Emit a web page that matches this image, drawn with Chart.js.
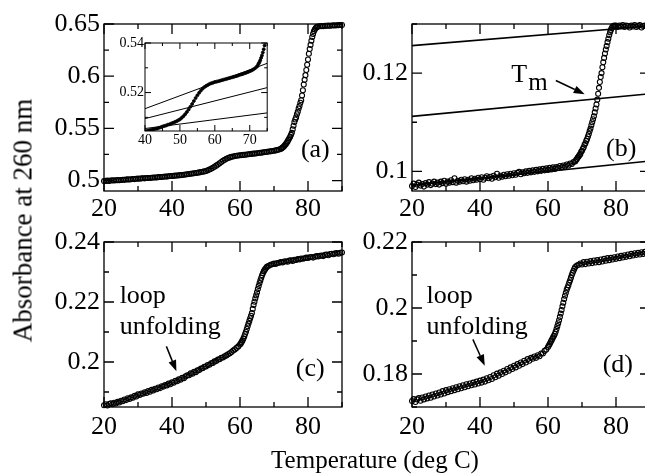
<!DOCTYPE html>
<html>
<head>
<meta charset="utf-8">
<script src="https://cdn.jsdelivr.net/npm/chart.js@4.4.1/dist/chart.umd.min.js"></script>
<style>
html, body { margin: 0; padding: 0; background: #fff; overflow: hidden; width: 645px; height: 474px; }
canvas { position: absolute; }
.title { position: absolute; font-family: 'Liberation Serif', 'Times New Roman', serif; color: #000; white-space: nowrap; text-align: center; }
</style>
</head>
<body>
<canvas id="pa" width="314" height="227" style="left:34px;top:4px"></canvas>
<canvas id="pb" width="314" height="227" style="left:342px;top:4px"></canvas>
<canvas id="pc" width="314" height="225" style="left:34px;top:222px"></canvas>
<canvas id="pd" width="314" height="225" style="left:342px;top:222px"></canvas>
<canvas id="inset" width="162" height="118" style="left:110px;top:33px"></canvas>
<div class="title" style="left:0;top:447px;width:750px;height:25px;font-size:25px;line-height:25px">Temperature (deg C)</div>
<div class="title" style="left:-127px;top:207px;width:300px;height:27px;font-size:27px;line-height:27px;transform:rotate(-90deg)">Absorbance at 260 nm</div>
<script>
const FONT = "'Liberation Serif', 'Times New Roman', serif";

// panel (a) and the inset
const aTemps = [
  20,20.5,21,21.5,22,22.5,23,23.5,24,24.5,
  25,25.5,26,26.5,27,27.5,28,28.5,29,29.5,
  30,30.5,31,31.5,32,32.5,33,33.5,34,34.5,
  35,35.5,36,36.5,37,37.5,38,38.5,39,39.5,
  40,40.5,41,41.5,42,42.5,43,43.5,44,44.5,
  45,45.5,46,46.5,47,47.5,48,48.5,49,49.5,
  50,50.5,51,51.5,52,52.5,53,53.5,54,54.5,
  55,55.5,56,56.5,57,57.5,58,58.5,59,59.5,
  60,60.5,61,61.5,62,62.5,63,63.5,64,64.5,
  65,65.5,66,66.5,67,67.5,68,68.5,69,69.5,
  70,70.5,71,71.5,72,
  72.25,72.5,72.75,73,73.25,73.5,73.75,74,
  74.25,74.5,74.75,75,75.25,75.5,75.75,76,
  76.25,76.5,76.75,77,77.25,77.5,77.75,78,
  78.25,78.5,78.75,79,79.25,79.5,79.75,80,
  80.25,80.5,80.75,81,81.25,81.5,81.75,82,
  82.25,82.5,82.75,83,
  83.5,84,84.5,85,85.5,86,86.5,87,87.5,88,88.5,89,89.5,90
];
const aAbs = [
  .4995,.4997,.4999,.4997,.5001,.5002,.5000,.5003,.5004,.5003,
  .5006,.5008,.5007,.5010,.5011,.5010,.5013,.5015,.5014,.5017,
  .5019,.5018,.5021,.5022,.5021,.5024,.5025,.5024,.5027,.5029,
  .5030,.5030,.5033,.5034,.5034,.5037,.5039,.5038,.5041,.5043,
  .5044,.5045,.5047,.5049,.5050,.5052,.5054,.5055,.5058,.5060,
  .5063,.5065,.5067,.5070,.5072,.5075,.5078,.5081,.5084,.5088,
  .5092,.5098,.5105,.5113,.5122,.5132,.5143,.5154,.5166,.5178,
  .5189,.5199,.5208,.5216,.5222,.5227,.5231,.5235,.5238,.5240,
  .5243,.5244,.5246,.5248,.5250,.5252,.5254,.5256,.5258,.5260,
  .5262,.5264,.5266,.5268,.5271,.5273,.5275,.5278,.5280,.5283,
  .5286,.5289,.5293,.5298,.5304,
  .5308,.5316,.5322,.5330,.5340,.5350,.5362,.5375,
  .5390,.5405,.5420,.5438,.5457,.5490,.5525,.5560,
  .5585,.5605,.5635,.5660,.5690,.5715,.5745,.5770,
  .5815,.5865,.5920,.5965,.6010,.6060,.6110,.6160,
  .6215,.6260,.6300,.6340,.6375,.6405,.6430,.6448,
  .6460,.6468,.6473,.6476,
  .6478,.6480,.6479,.6482,.6483,.6484,.6483,.6486,.6487,.6486,.6488,.6489,.6490,.6491
];
// baseline fits in the inset: [t0, a0, t1, a1]
const insetLines = [[40, .5135, 75, .5318], [40, .5095, 75, .5220], [40, .5055, 75, .5118]];

// panel (b)
const bTemps = [
  20,20.5,21,21.5,22,22.5,23,23.5,24,24.5,
  25,25.5,26,26.5,27,27.5,28,28.5,29,29.5,
  30,30.5,31,31.5,32,32.5,33,33.5,34,34.5,
  35,35.5,36,36.5,37,37.5,38,38.5,39,39.5,
  40,40.5,41,41.5,42,42.5,43,43.5,44,44.5,
  45,45.5,46,46.5,47,47.5,48,48.5,49,49.5,
  50,50.5,51,51.5,52,52.5,53,53.5,54,54.5,
  55,55.5,56,56.5,57,57.5,58,58.5,59,59.5,
  60,60.5,61,61.5,62,62.5,63,63.5,64,64.5,
  65,65.5,66,66.5,67,67.5,68,
  68.25,68.5,68.75,69,69.25,69.5,69.75,70,
  70.25,70.5,70.75,71,71.25,71.5,71.75,72,
  72.25,72.5,72.75,73,73.25,73.5,73.75,74,
  74.25,74.5,74.75,75,75.25,75.5,75.75,76,
  76.25,76.5,76.75,77,77.25,77.5,77.75,78,
  78.25,78.5,78.75,79,79.25,79.5,79.75,80,
  80.5,81,81.5,82,82.5,83,83.5,84,84.5,85,85.5,86,86.5,87,87.5,88,88.5,89,89.5,90
];
const bAbs = [
  .0970,.0975,.0968,.0973,.0977,.0971,.0974,.0969,.0976,.0973,
  .0978,.0972,.0975,.0979,.0974,.0977,.0973,.0979,.0976,.0981,
  .0975,.0979,.0977,.0982,.0978,.0986,.0977,.0981,.0979,.0983,
  .0980,.0984,.0979,.0983,.0981,.0986,.0982,.0985,.0983,.0987,
  .0984,.0988,.0983,.0987,.0990,.0986,.0989,.0985,.0991,.0988,
  .0995,.0987,.0991,.0989,.0993,.0990,.0994,.0991,.0995,.0992,
  .0996,.0993,.0997,.0999,.0994,.0998,.0996,.1000,.0997,.1001,
  .0998,.1002,.0999,.1003,.1000,.1004,.1001,.1005,.1002,.1006,
  .1003,.1007,.1004,.1008,.1005,.1009,.1007,.1011,.1008,.1012,
  .1010,.1014,.1012,.1016,.1015,.1019,.1020,
  .1023,.1025,.1028,.1030,.1033,.1035,.1040,.1042,
  .1046,.1049,.1054,.1057,.1062,.1066,.1071,.1076,
  .1082,.1087,.1094,.1100,.1106,.1112,.1120,.1128,
  .1136,.1146,.1158,.1170,.1182,.1192,.1200,.1212,
  .1222,.1231,.1240,.1248,.1255,.1263,.1270,.1277,
  .1283,.1288,.1292,.1295,.1296,.1297,.1295,.1297,
  .1294,.1297,.1295,.1298,.1294,.1297,.1296,.1293,.1297,.1295,
  .1298,.1294,.1296,.1298,.1293,.1296,.1297,.1295,.1298,.1296
];
// upper baseline, Tm line, lower baseline
const bLines = [[20, .1256, 90, .1296], [20, .1112, 90, .1158], [20, .0972, 90, .1021]];

// panels (c) and (d) share the temperatures
const cdTemps = [
  20,20.5,21,21.5,22,22.5,23,23.5,24,24.5,
  25,25.5,26,26.5,27,27.5,28,28.5,29,29.5,
  30,30.5,31,31.5,32,32.5,33,33.5,34,34.5,
  35,35.5,36,36.5,37,37.5,38,38.5,39,39.5,
  40,40.5,41,41.5,42,42.5,43,43.5,44,44.5,
  45,45.5,46,46.5,47,47.5,48,48.5,49,49.5,
  50,50.5,51,51.5,52,52.5,53,53.5,54,54.5,
  55,55.5,56,56.5,57,57.5,58,58.5,59,59.5,
  60,
  60.25,60.5,60.75,61,61.25,61.5,61.75,62,
  62.25,62.5,62.75,63,63.25,63.5,63.75,64,
  64.25,64.5,64.75,65,65.25,65.5,65.75,66,
  66.25,66.5,66.75,67,67.25,67.5,67.75,68,
  68.5,69,69.5,
  70,70.5,71,71.5,72,72.5,73,73.5,74,74.5,
  75,75.5,76,76.5,77,77.5,78,78.5,79,79.5,
  80,80.5,81,81.5,82,82.5,83,83.5,84,84.5,
  85,85.5,86,86.5,87,87.5,88,88.5,89,89.5,
  90
];
const cAbs = [
  .1856,.1859,.1855,.1860,.1862,.1859,.1864,.1862,.1867,.1865,
  .1871,.1869,.1875,.1873,.1879,.1877,.1882,.1881,.1887,.1885,
  .1892,.1890,.1895,.1894,.1899,.1897,.1903,.1901,.1907,.1905,
  .1911,.1909,.1915,.1913,.1919,.1918,.1923,.1922,.1928,.1926,
  .1932,.1931,.1937,.1936,.1942,.1941,.1947,.1946,.1952,.1956,
  .1956,.1962,.1961,.1967,.1966,.1972,.1973,.1978,.1979,.1984,
  .1985,.1990,.1991,.1996,.1997,.2002,.2003,.2008,.2009,.2014,
  .2015,.2019,.2022,.2026,.2029,.2033,.2038,.2042,.2047,.2052,
  .2058,
  .2062,.2067,.2072,.2078,.2085,.2093,.2101,.2110,
  .2119,.2128,.2137,.2146,.2154,.2163,.2177,.2190,
  .2201,.2212,.2222,.2232,.2243,.2253,.2263,.2272,
  .2281,.2289,.2296,.2302,.2307,.2311,.2315,.2318,
  .2321,.2324,.2326,
  .2328,.2327,.2330,.2331,.2333,.2332,.2335,.2336,.2334,.2338,
  .2339,.2337,.2341,.2340,.2343,.2342,.2345,.2344,.2346,.2348,
  .2347,.2349,.2350,.2348,.2351,.2353,.2352,.2354,.2355,.2353,
  .2357,.2358,.2356,.2360,.2361,.2359,.2362,.2363,.2361,.2364,
  .2365
];
const dAbs = [
  .1718,.1724,.1715,.1723,.1727,.1719,.1729,.1723,.1732,.1726,
  .1735,.1728,.1738,.1732,.1741,.1735,.1744,.1738,.1748,.1741,
  .1751,.1745,.1754,.1748,.1757,.1751,.1760,.1754,.1763,.1757,
  .1766,.1760,.1769,.1763,.1771,.1766,.1774,.1768,.1777,.1771,
  .1780,.1774,.1783,.1777,.1787,.1781,.1791,.1785,.1796,.1790,
  .1801,.1795,.1805,.1800,.1810,.1805,.1815,.1810,.1820,.1815,
  .1825,.1820,.1830,.1825,.1835,.1830,.1840,.1835,.1845,.1840,
  .1849,.1846,.1853,.1849,.1857,.1854,.1862,.1862,.1870,.1874,
  .1882,
  .1886,.1891,.1896,.1901,.1906,.1911,.1916,.1921,
  .1928,.1936,.1945,.1954,.1963,.1973,.1983,.1994,
  .2005,.2016,.2027,.2037,.2046,.2055,.2062,.2069,
  .2077,.2084,.2092,.2100,.2107,.2113,.2119,.2124,
  .2129,.2131,.2135,
  .2132,.2139,.2133,.2140,.2135,.2142,.2136,.2144,.2138,.2145,
  .2139,.2147,.2141,.2149,.2143,.2151,.2145,.2152,.2147,.2154,
  .2149,.2156,.2151,.2158,.2153,.2160,.2155,.2162,.2157,.2164,
  .2159,.2166,.2161,.2167,.2162,.2169,.2164,.2170,.2165,.2171,
  .2168
];

function pts(xs, ys) { return xs.map((x, i) => ({x: x, y: ys[i]})); }
function seg(l) { return [{x: l[0], y: l[1]}, {x: l[2], y: l[3]}]; }
function onStep(v, step) { return Math.abs(v / step - Math.round(v / step)) < 1e-6; }

// box frame, inward ticks on all four sides, labels and arrows
const deco = {
  id: 'deco',
  afterDatasetsDraw(chart, args, o) {
    const ctx = chart.ctx, a = chart.chartArea, x = chart.scales.x, y = chart.scales.y;
    ctx.save();
    ctx.strokeStyle = '#000';
    ctx.fillStyle = '#000';
    ctx.lineWidth = o.frame;
    ctx.strokeRect(a.left, a.top, a.right - a.left, a.bottom - a.top);
    ctx.beginPath();
    x.ticks.forEach(t => {
      const p = x.getPixelForValue(t.value), l = t.label ? o.major : o.minor;
      ctx.moveTo(p, a.bottom); ctx.lineTo(p, a.bottom - l);
      ctx.moveTo(p, a.top); ctx.lineTo(p, a.top + l);
    });
    y.ticks.forEach(t => {
      const p = y.getPixelForValue(t.value), l = t.label ? o.major : o.minor;
      ctx.moveTo(a.left, p); ctx.lineTo(a.left + l, p);
      ctx.moveTo(a.right, p); ctx.lineTo(a.right - l, p);
    });
    ctx.stroke();
    (o.notes || []).forEach(n => {
      ctx.font = o.fontSize + 'px ' + FONT;
      ctx.textAlign = n.align || 'left';
      ctx.textBaseline = 'alphabetic';
      const px = x.getPixelForValue(n.x), py = y.getPixelForValue(n.y);
      ctx.fillText(n.text, px, py);
      if (n.sub) {
        const w = ctx.measureText(n.text).width;
        ctx.font = n.subSize + 'px ' + FONT;
        ctx.textAlign = 'left';
        ctx.fillText(n.sub, px + w + 1, py + n.subDrop);
      }
    });
    (o.arrows || []).forEach(r => {
      const x0 = x.getPixelForValue(r[0]), y0 = y.getPixelForValue(r[1]);
      const x1 = x.getPixelForValue(r[2]), y1 = y.getPixelForValue(r[3]);
      const ang = Math.atan2(y1 - y0, x1 - x0), L = 11, W = 4;
      const bx = x1 - L * Math.cos(ang), by = y1 - L * Math.sin(ang);
      ctx.lineWidth = 1.5;
      ctx.beginPath(); ctx.moveTo(x0, y0); ctx.lineTo(bx, by); ctx.stroke();
      ctx.beginPath(); ctx.moveTo(x1, y1);
      ctx.lineTo(bx + W * Math.sin(ang), by - W * Math.cos(ang));
      ctx.lineTo(bx - W * Math.sin(ang), by + W * Math.cos(ang));
      ctx.closePath(); ctx.fill();
    });
    ctx.restore();
  }
};

function makeChart(id, c) {
  const datasets = (c.lines || []).map(l => ({
    data: seg(l), showLine: true, borderColor: '#000', borderWidth: c.lineWidth,
    pointRadius: 0, fill: false, clip: 0
  }));
  datasets.push({
    data: pts(c.temps, c.abs), showLine: false,
    pointRadius: c.radius, pointBorderWidth: c.pointBorder,
    pointBorderColor: '#000', pointBackgroundColor: c.fillPoints ? '#000' : 'rgba(0,0,0,0)',
    clip: c.clip
  });
  const tickFont = {family: FONT, size: c.fontSize};
  return new Chart(document.getElementById(id), {
    type: 'scatter',
    data: {datasets: datasets},
    plugins: [deco],
    options: {
      responsive: false,
      animation: false,
      events: [],
      layout: {padding: {top: c.padTop, right: c.padRight, left: 0, bottom: 0}},
      scales: {
        x: {
          type: 'linear', min: c.xMin, max: c.xMax,
          grid: {display: false, drawTicks: false}, border: {display: false},
          ticks: {
            stepSize: c.xStep, autoSkip: false, maxRotation: 0, includeBounds: false,
            font: tickFont, color: '#000', padding: c.xPad,
            callback: v => onStep(v, c.xLab) ? String(v) : ''
          },
          afterFit: s => { s.height = c.xH; }
        },
        y: {
          type: 'linear', min: c.yMin, max: c.yMax,
          grid: {display: false, drawTicks: false}, border: {display: false},
          ticks: {
            stepSize: c.yStep, autoSkip: false, includeBounds: false,
            font: tickFont, color: '#000', padding: c.yPad,
            callback: v => onStep(v, c.yLab) ? String(+v.toFixed(4)) : ''
          },
          afterFit: s => { s.width = c.yW; }
        }
      },
      plugins: {
        legend: {display: false},
        tooltip: {enabled: false},
        deco: {frame: c.frame, major: c.major, minor: c.minor, fontSize: c.fontSize,
               notes: c.notes, arrows: c.arrows}
      }
    }
  });
}

const panelBase = {
  xMin: 20, xMax: 90, xStep: 10, xLab: 20,
  yW: 70, xH: 40, padTop: 20, padRight: 6,
  fontSize: 26, xPad: 3, yPad: 4,
  radius: 2.5, pointBorder: 1.1, fillPoints: false, clip: 3,
  lineWidth: 1.6, frame: 1.3, major: 10, minor: 5
};

makeChart('pa', Object.assign({}, panelBase, {
  temps: aTemps, abs: aAbs,
  yMin: 0.49, yMax: 0.65, yStep: 0.025, yLab: 0.05,
  notes: [{text: '(a)', x: 86.4, y: 0.5221, align: 'right'}]
}));

makeChart('pb', Object.assign({}, panelBase, {
  temps: bTemps, abs: bAbs, lines: bLines,
  yMin: 0.096, yMax: 0.13, yStep: 0.01, yLab: 0.02,
  notes: [
    {text: '(b)', x: 86.0, y: 0.10305, align: 'right'},
    {text: 'T', x: 49.2, y: 0.11817, sub: 'm', subSize: 25, subDrop: 8}
  ],
  arrows: [[62.3, 0.1185, 70.8, 0.1157]]
}));

makeChart('pc', Object.assign({}, panelBase, {
  temps: cdTemps, abs: cAbs,
  yMin: 0.185, yMax: 0.24, yStep: 0.01, yLab: 0.02, xPad: 5,
  notes: [
    {text: '(c)', x: 84.9, y: 0.1955, align: 'right'},
    {text: 'loop', x: 24.6, y: 0.21974},
    {text: 'unfolding', x: 24.6, y: 0.2092}
  ],
  arrows: [[38.35, 0.2052, 41.3, 0.1969]]
}));

makeChart('pd', Object.assign({}, panelBase, {
  temps: cdTemps, abs: dAbs,
  yMin: 0.17, yMax: 0.22, yStep: 0.01, yLab: 0.02, xPad: 5,
  notes: [
    {text: '(d)', x: 85.0, y: 0.1806, align: 'right'},
    {text: 'loop', x: 24.3, y: 0.20165},
    {text: 'unfolding', x: 24.3, y: 0.19214}
  ],
  arrows: [[37.9, 0.1905, 41.4, 0.1825]]
}));

makeChart('inset', {
  temps: aTemps, abs: aAbs, lines: insetLines,
  xMin: 40, xMax: 75, xStep: 5, xLab: 10,
  yMin: 0.5045, yMax: 0.54, yStep: 0.01, yLab: 0.02,
  yW: 35, xH: 20, padTop: 10, padRight: 4,
  fontSize: 14, xPad: 1, yPad: 1,
  radius: 1.5, pointBorder: 0.8, fillPoints: true, clip: 0,
  lineWidth: 1, frame: 1, major: 6, minor: 3
});
</script>
</body>
</html>
